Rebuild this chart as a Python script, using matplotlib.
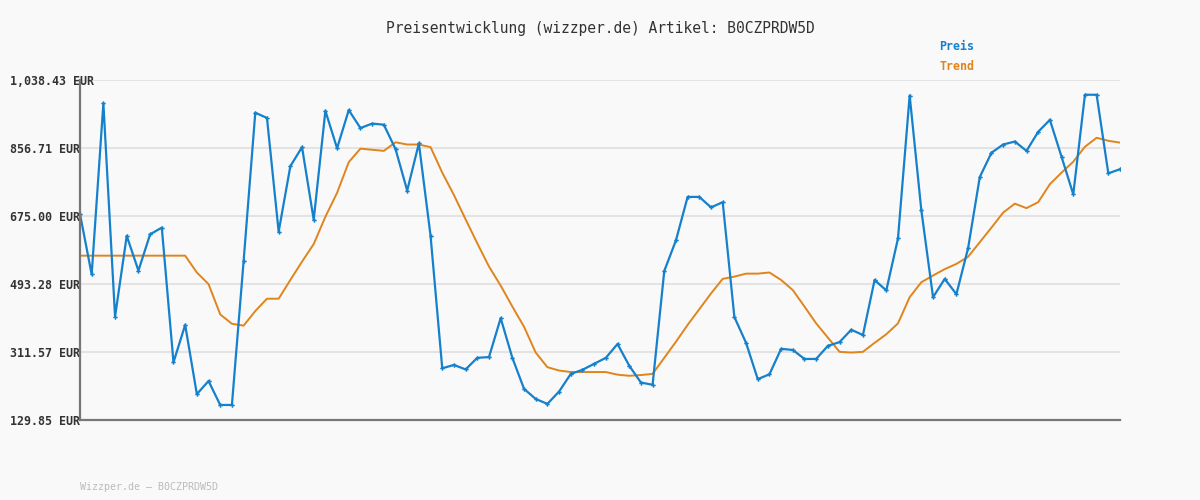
import matplotlib
matplotlib.use("Agg")
import matplotlib.pyplot as plt
import numpy as np

title = "Preisentwicklung (wizzper.de) Artikel: B0CZPRDW5D"
footer = "Wizzper.de \u2013 B0CZPRDW5D"
ytick_values = [129.85, 311.57, 493.28, 675.00, 856.71, 1038.43]
ytick_labels = ["129.85 EUR", "311.57 EUR", "493.28 EUR", "675.00 EUR", "856.71 EUR", "1,038.43 EUR"]

preis = [680, 519, 976, 406, 622, 529, 626, 644, 284, 384,
         199, 234, 170, 170, 554, 951, 937, 633, 808, 859,
         665, 956, 856, 958, 910, 922, 919, 854, 743, 869,
         622, 268, 277, 265, 296, 298, 402, 296, 213, 186,
         173, 206, 253, 264, 280, 296, 333, 275, 230, 224,
         528, 610, 726, 726, 698, 712, 405, 336, 239, 252,
         320, 317, 293, 293, 328, 338, 371, 357, 504, 476,
         615, 997, 690, 458, 507, 466, 589, 779, 844, 866,
         874, 849, 900, 932, 833, 733, 999, 999, 789, 800]

trend = [569, 569, 569, 569, 569, 569, 569, 569, 569, 569,
         524, 493, 412, 387, 382, 421, 454, 454, 504, 553,
         600, 673, 737, 819, 855, 852, 849, 872, 866, 866,
         859, 791, 731, 666, 602, 540, 489, 433, 379, 310,
         271, 262, 258, 258, 258, 258, 251, 248, 250, 253,
         296, 339, 384, 426, 468, 507, 513, 521, 521, 524,
         504, 477, 433, 388, 350, 312, 310, 312, 336, 359,
         388, 458, 498, 516, 533, 547, 566, 605, 644, 684,
         708, 696, 712, 760, 791, 820, 860, 884, 876, 871]

bg = "#f9f9f9"
blue = "#1580cc"
orange = "#e0841c"

fig = plt.figure(figsize=(12, 5), dpi=100, facecolor=bg)
ax = fig.add_axes([80/1200, 80/500, 1040/1200, 340/500], facecolor=bg)

x = np.arange(len(preis))
ax.plot(x, trend, color=orange, lw=1.4, zorder=3)
ax.plot(x, preis, color=blue, lw=1.6, marker="P", markersize=3.2,
        markeredgewidth=0, zorder=4)

ax.set_xlim(0, len(preis) - 1)
ax.set_ylim(ytick_values[0], ytick_values[-1])
ax.set_xticks([])
ax.set_yticks(ytick_values)
ax.set_yticklabels(ytick_labels, family="DejaVu Sans Mono", fontsize=8.4,
                   fontweight="bold", color="#333333", ha="left")
ax.tick_params(axis="y", length=0, pad=50.4)
ax.grid(axis="y", color="#e3e3e3", lw=1.5, zorder=0)
for s in ["top", "right"]:
    ax.spines[s].set_visible(False)
for s in ["left", "bottom"]:
    ax.spines[s].set_color("#777777")
    ax.spines[s].set_linewidth(1.6)
    ax.spines[s].set_zorder(5)

fig.text(0.5, 1 - 28/500, title, ha="center", va="center",
         family="DejaVu Sans Mono", fontsize=10.5, color="#333333")
fig.text(939/1200, 1 - 47/500, "Preis", ha="left", va="center",
         family="DejaVu Sans Mono", fontsize=8.4, fontweight="bold", color=blue)
fig.text(939/1200, 1 - 67/500, "Trend", ha="left", va="center",
         family="DejaVu Sans Mono", fontsize=8.4, fontweight="bold", color=orange)
fig.text(80/1200, 1 - 487/500, footer, ha="left", va="center",
         family="DejaVu Sans Mono", fontsize=7.2, color="#bbbbbb")

fig.savefig("out.png", dpi=100, facecolor=bg)
